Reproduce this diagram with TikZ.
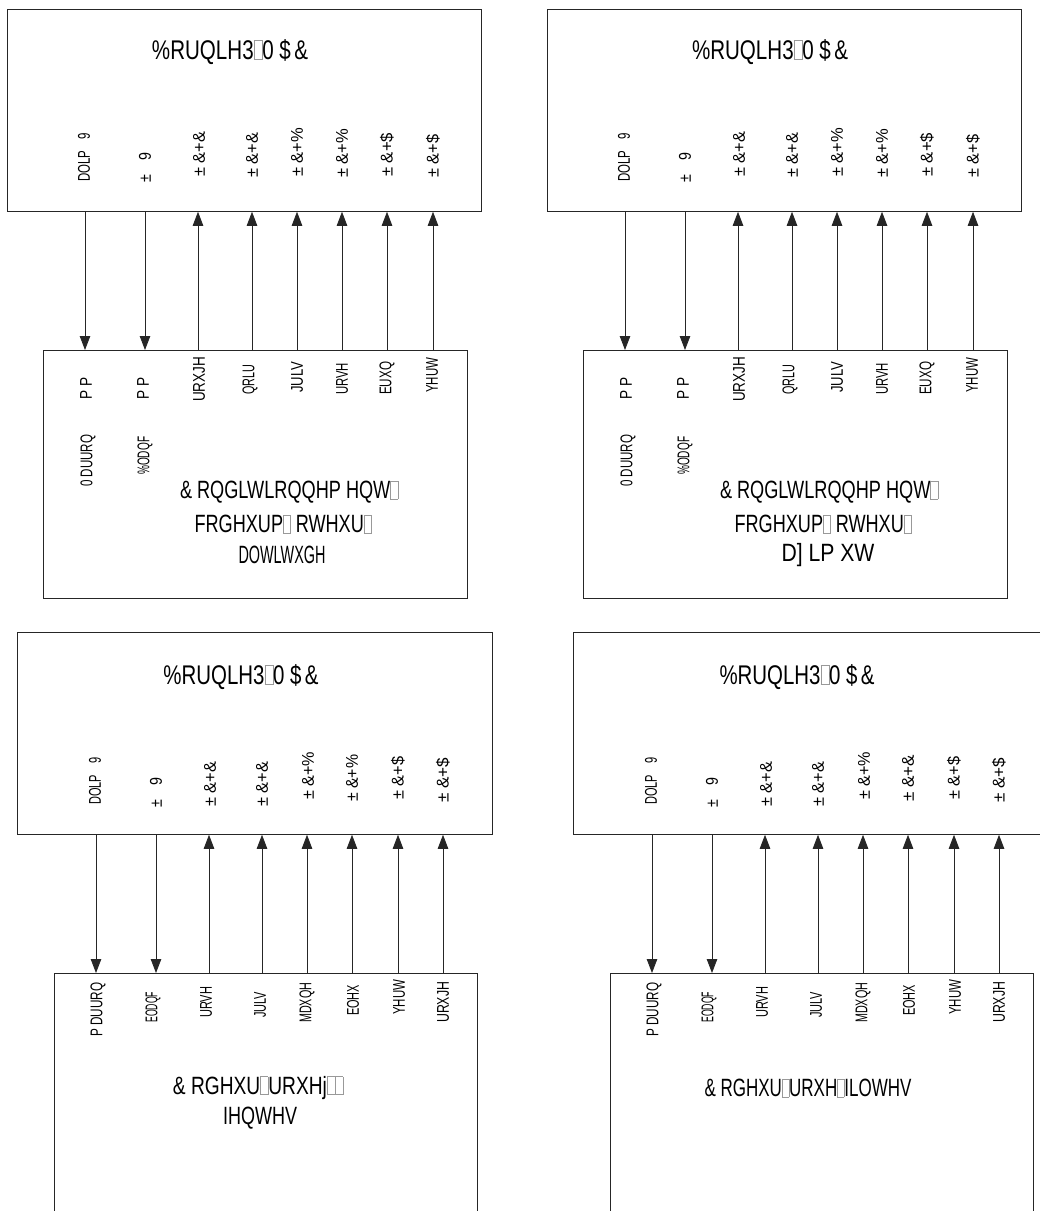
\documentclass[tikz,border=0pt]{standalone}
\usepackage{fontspec}
\usepackage{graphicx}
\setmainfont{Liberation Sans}
\usetikzlibrary{arrows.meta}
\newcommand\gbx{{\color{black!40}\setlength{\fboxrule}{0.5pt}\setlength{\fboxsep}{0pt}\fbox{\rule{0pt}{0.7em}\hspace{0.38em}}}}
\newcommand\sqz[2]{\resizebox{#1pt}{\height}{#2}}
\begin{document}
\begin{tikzpicture}[x=1pt,y=-1pt,
  box/.style={draw=black!85, line width=0.8pt, inner sep=0pt, anchor=north west},
  conn/.style={draw=black!85, line width=0.8pt},
  dn/.style={conn, -{Triangle[length=14pt,width=10.5pt]}},
  ttl/.style={font=\fontsize{27}{27}\selectfont, inner sep=0pt},
  ctr/.style={font=\fontsize{25}{25}\selectfont, inner sep=0pt},
  lab/.style={font=\fontsize{17}{17}\selectfont, rotate=90, inner sep=0pt, anchor=west},
]
\useasboundingbox[fill=white] (0,0) rectangle (1040,1218);
\clip (0,0) rectangle (1040,1218);

% ---------- panels 1 and 2 ----------
\foreach \dx/\p/\ltext/\lw/\lcx in {0/1/DOWLWXGH/87/282, 540/2/D] LP XW/93/288} {
\begin{scope}[xshift=\dx]
  \node[box, minimum width=474pt, minimum height=202pt] (T\p) at (7,9) {};
  \node[box, minimum width=424pt, minimum height=248pt] (L\p) at (43,350) {};
  \node[ttl] (ttl\p) at (230,52) {\sqz{156}{\%RUQLH3\gbx0 \$\,\&}};
  \node[ctr] (ca\p) at (289,492) {\sqz{218}{\& RQGLWLRQQHP HQW\gbx}};
  \node[ctr] (cb\p) at (283,524) {\sqz{177}{FRGHXUP\gbx\ RWHXU\gbx}};
  \node[ctr] (cc\p) at (\lcx,555) {\sqz{\lw}{\ltext}};
  % connectors
  \foreach \x/\k in {85/1,145/2} {
    \coordinate (x\p\k) at (\x,0);
    \draw[dn] (T\p.south -| x\p\k) -- (L\p.north -| x\p\k);
  }
  \foreach \x/\k in {198/3,252/4,297/5,342/6,387/7,433/8} {
    \coordinate (x\p\k) at (\x,0);
    \draw[dn] (L\p.north -| x\p\k) -- (T\p.south -| x\p\k);
  }
  % labels in upper box
  \foreach \x/\b/\w/\t/\k in {84/182/49/{DOLP\quad 9}/1, 145/183/30/{±\quad 9}/2,
      199/177/45/{± \&+\&}/3, 252/178/45/{± \&+\&}/4, 297/177/49/{± \&+\%}/5,
      342/178/49/{± \&+\%}/6, 387/177/44/{± \&+\$}/7, 433/178/43/{± \&+\$}/8} {
    \node[lab] (ut\p\k) at (\x,\b) {\sqz{\w}{\t}};
  }
  % labels in lower box
  \foreach \x/\b/\w/\t/\k in {86/400/22/{P P}/1, 143/400/22/{P P}/2,
      199/402/45/{URXJH}/3, 250/395/30/{QRLU}/4, 297/393/31/{JULV}/5,
      342/395/32/{URVH}/6, 387/395/33/{EUXQ}/7, 432/393/35/{YHUW}/8,
      88/487/52/{0 DUURQ}/9, 145/475/38/{\%ODQF}/10} {
    \node[lab] (lt\p\k) at (\x,\b) {\sqz{\w}{\t}};
  }
\end{scope}
}

% ---------- panels 3 and 4 ----------
\foreach \dx/\p/\six in {0/3/{± \&+\%}, 556/4/{± \&+\&}} {
\begin{scope}[xshift=\dx]
  \node[box, minimum width=475pt, minimum height=202pt] (T\p) at (17,632) {};
  \node[box, draw=none, minimum width=423pt, minimum height=237pt] (L\p) at (54,973) {};
  \draw[conn] (L\p.south west) -- (L\p.north west) -- (L\p.north east) -- (L\p.south east);
  \node[ttl] (ttl\p) at (241,677) {\sqz{155}{\%RUQLH3\gbx0 \$\,\&}};
  \foreach \x/\k in {96/1,156/2} {
    \coordinate (x\p\k) at (\x,0);
    \draw[dn] (T\p.south -| x\p\k) -- (L\p.north -| x\p\k);
  }
  \foreach \x/\k in {209/3,262/4,307/5,352/6,398/7,443/8} {
    \coordinate (x\p\k) at (\x,0);
    \draw[dn] (L\p.north -| x\p\k) -- (T\p.south -| x\p\k);
  }
  \foreach \x/\b/\w/\t/\k in {95/805/47/{DOLP\quad 9}/1, 156/808/30/{±\quad 9}/2,
      210/807/45/{± \&+\&}/3, 262/807/45/{± \&+\&}/4, 308/800/48/{± \&+\%}/5,
      352/802/47/{\six}/6, 398/800/43/{± \&+\$}/7, 443/803/45/{± \&+\$}/8} {
    \node[lab] (ut\p\k) at (\x,\b) {\sqz{\w}{\t}};
  }
  \foreach \x/\b/\w/\t/\k in {98/1037/54/{P DUURQ}/1, 153/1023/31/{EODQF}/2,
      206/1018/31/{URVH}/3, 260/1018/26/{JULV}/4, 307/1023/40/{MDXQH}/5,
      353/1016/31/{EOHX}/6, 399/1015/35/{YHUW}/7, 443/1023/41/{URXJH}/8} {
    \node[lab] (lt\p\k) at (\x,\b) {\sqz{\w}{\t}};
  }
\end{scope}
}
\node[ctr] (ca3) at (258,1088) {\sqz{170}{\& RGHXU\gbx URXHj\gbx\gbx}};
\node[ctr] (cb3) at (260,1118) {\sqz{74}{IHQWHV}};
\node[ctr] (ca4) at (808,1088) {\sqz{207}{\& RGHXU\gbx URXH\gbx ILOWHV}};
\end{tikzpicture}
\end{document}
